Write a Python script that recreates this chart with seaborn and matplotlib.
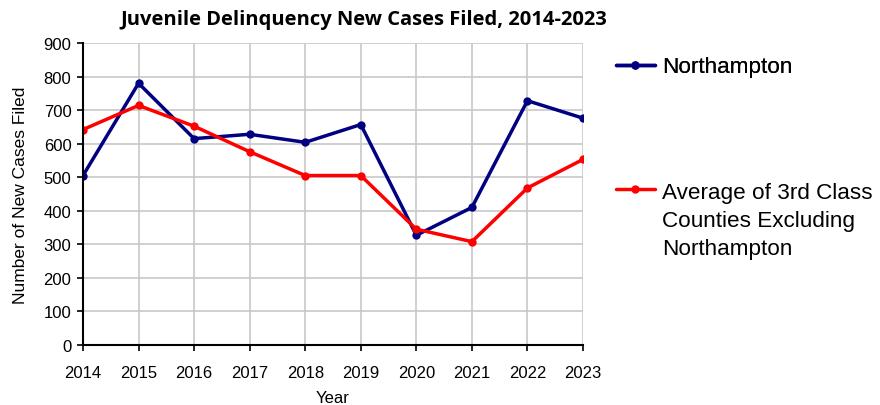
import matplotlib
matplotlib.use("Agg")
import matplotlib.pyplot as plt
import seaborn as sns
import pandas as pd
from matplotlib.lines import Line2D

years = [2014, 2015, 2016, 2017, 2018, 2019, 2020, 2021, 2022, 2023]
northampton = [505, 780, 615, 628, 604, 657, 327, 410, 728, 676]
avg_3rd_class = [642, 714, 652, 576, 505, 505, 345, 308, 468, 553]
series_names = ["Northampton", "Average of 3rd Class\nCounties Excluding\nNorthampton"]
title = "Juvenile Delinquency New Cases Filed, 2014-2023"

df = pd.DataFrame({
    "Year": years * 2,
    "Cases": northampton + avg_3rd_class,
    "Series": [series_names[0]] * len(years) + [series_names[1]] * len(years),
})

sns.set_style("white")
plt.rcParams["font.family"] = ["Liberation Sans", "DejaVu Sans"]
plt.rcParams["text.color"] = "black"
plt.rcParams["axes.labelcolor"] = "black"
plt.rcParams["xtick.color"] = "black"
plt.rcParams["ytick.color"] = "black"

fig = plt.figure(figsize=(8.8, 4.06), dpi=100)
ax = fig.add_axes([83 / 880, 1 - 346 / 406, 500 / 880, 302 / 406])

palette = {series_names[0]: "#000080", series_names[1]: "#FF0000"}
sns.lineplot(data=df, x="Year", y="Cases", hue="Series", palette=palette, ax=ax,
             marker="o", markersize=6, markeredgewidth=0, linewidth=2.5, legend=False)

ax.set_xlim(2014, 2023)
ax.set_ylim(0, 900)
ax.set_xticks(years)
ax.set_yticks(range(0, 901, 100))
ax.grid(True, color="#C8C8C8", linewidth=1.2)
for s in ["top", "right"]:
    ax.spines[s].set_visible(False)
for s in ["left", "bottom"]:
    ax.spines[s].set_color("black")
    ax.spines[s].set_linewidth(1.5)
ax.tick_params(axis="both", direction="out", length=4.3, width=1.2, color="black",
               labelcolor="black", labelsize=12, bottom=True, left=True)
ax.tick_params(axis="x", pad=10)
ax.tick_params(axis="y", pad=4)
ax.set_xlabel("Year", fontsize=12, labelpad=7, color="black")
ax.set_ylabel("Number of New Cases Filed", fontsize=12.5, labelpad=11, color="black")

fig.text(364 / 880, 1 - 20 / 406, title, ha="center", va="center", color="black",
         fontsize=14.5, fontweight="bold", family=["Open Sans", "DejaVu Sans"])

# Legend
h1 = Line2D([], [], color="#000080", marker="o", markersize=6, markeredgewidth=0, linewidth=2.5)
h2 = Line2D([], [], color="#FF0000", marker="o", markersize=6, markeredgewidth=0, linewidth=2.5)
leg1 = fig.legend([h1], [series_names[0]], loc="center left",
                  bbox_to_anchor=(596 / 880, 1 - 68 / 406), frameon=False,
                  fontsize=16.2, handlelength=1.7, handletextpad=0.35, labelcolor="black")
leg2 = fig.legend([h2], [series_names[1]], loc="upper left",
                  bbox_to_anchor=(596 / 880, 1 - 163 / 406), frameon=False,
                  fontsize=16.2, handlelength=1.7, handletextpad=0.35, labelcolor="black")
fig.add_artist(leg1)
for t in leg2.get_texts():
    t.set_linespacing(1.42)
for ln in leg2.get_lines():
    ln.set_ydata([y + 23 for y in ln.get_ydata()])

fig.savefig("out.png", dpi=100)
